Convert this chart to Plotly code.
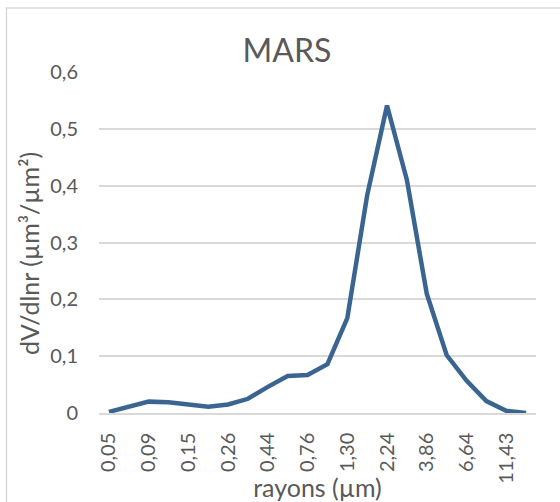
import plotly.graph_objects as go

radii = ["0,05", "0,07", "0,09", "0,11", "0,15", "0,19", "0,26", "0,33", "0,44", "0,58", "0,76",
         "0,99", "1,30", "1,71", "2,24", "2,94", "3,86", "5,06", "6,64", "8,71", "11,43", "15,00"]
dv_dlnr = [0.002, 0.011, 0.020, 0.019, 0.014, 0.011, 0.015, 0.025, 0.046, 0.065, 0.067,
           0.086, 0.167, 0.383, 0.541, 0.410, 0.210, 0.102, 0.057, 0.021, 0.004, 0.000]
tick_labels = radii[::2]
y_ticks = [0, 0.1, 0.2, 0.3, 0.4, 0.5, 0.6]
y_tick_text = ["0", "0,1", "0,2", "0,3", "0,4", "0,5", "0,6"]
y_title = "dV/dlnr (µm³/µm²)"
x_title = "rayons (µm)"

FONT = "Lato, 'Open Sans', sans-serif"
TXT = "#595959"

fig = go.Figure()
fig.add_trace(go.Scatter(
    x=radii, y=dv_dlnr, mode="lines",
    line=dict(color="#3b6591", width=4.5),
    hoverinfo="x+y", showlegend=False,
))

L, R, T, B = 99, 24, 72, 89
W, H = 560, 502
pw, ph = W - L - R, H - T - B

fig.update_layout(
    width=W, height=H,
    margin=dict(l=L, r=R, t=T, b=B, autoexpand=False),
    paper_bgcolor="white", plot_bgcolor="white",
    font=dict(family=FONT, color=TXT, size=20),
    title=dict(text="MARS", x=287 / W, xanchor="center",
               y=1 - 51 / H, yanchor="middle", yref="container",
               font=dict(size=32, color=TXT, family=FONT)),
    xaxis=dict(
        type="category", range=[-0.5, len(radii) - 0.5],
        tickmode="array", tickvals=tick_labels, ticktext=tick_labels,
        tickangle=-90, ticks="", ticklabelstandoff=10,
        showgrid=False, showline=True, linecolor="#D9D9D9", linewidth=1.5,
        zeroline=False, fixedrange=True,
        title=dict(text=x_title, standoff=0, font=dict(size=25, color=TXT)),
        tickfont=dict(size=20, color=TXT),
    ),
    yaxis=dict(
        range=[0, 0.6], tickmode="array", tickvals=y_ticks, ticktext=y_tick_text,
        ticks="", ticklabelstandoff=20,
        showgrid=True, gridcolor="#D9D9D9", gridwidth=1.5,
        zeroline=False, showline=False, fixedrange=True,
        tickfont=dict(size=20, color=TXT),
    ),
    annotations=[dict(
        text=y_title, textangle=-90, showarrow=False,
        xref="paper", yref="paper",
        x=(29 - L) / pw, y=(H - B - 254) / ph,
        xanchor="center", yanchor="middle",
        font=dict(size=25, color=TXT, family=FONT),
    )],
    shapes=[dict(
        type="rect", xref="paper", yref="paper",
        x0=(6.5 - L) / pw, x1=(W + 5 - L) / pw,
        y0=(H - B - (H + 5)) / ph, y1=(H - B - 8) / ph,
        line=dict(color="#D9D9D9", width=1.5), fillcolor="rgba(0,0,0,0)", layer="below",
    )],
)

fig.write_html("out.html", config={"displayModeBar": False},
               post_script="document.body.style.margin='0px';")
